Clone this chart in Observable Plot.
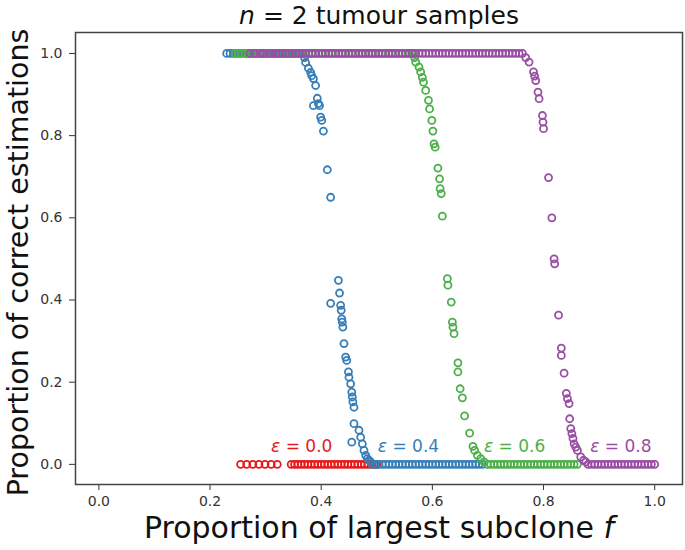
<!DOCTYPE html>
<html>
<head>
<meta charset="utf-8">
<script src="https://cdn.jsdelivr.net/npm/d3@7"></script>
<script src="https://cdn.jsdelivr.net/npm/@observablehq/plot@0.6"></script>
<style>
  html, body { margin: 0; padding: 0; background: #fff; }
  #chart { width: 685px; height: 550px; }
</style>
</head>
<body>
<div id="chart"></div>
<script>
// ---------- data ----------
const epsLabels = ["ε = 0.0", "ε = 0.4", "ε = 0.6", "ε = 0.8"];
const epsColors = ["#e41a1c", "#377eb8", "#4daf4a", "#984ea3"];

// eps = 0.0 (all at 0)
const redFloor = [0.255, 0.266, 0.277, 0.288, 0.299, 0.310, 0.321, 0.346, 0.352, 0.358, 0.364, 0.370, 0.376, 0.382, 0.388, 0.394, 0.400, 0.406, 0.412, 0.418, 0.424, 0.430, 0.436, 0.442, 0.448, 0.454, 0.460, 0.466, 0.472, 0.478, 0.484, 0.490, 0.496, 0.500];

// eps = 0.4
const blueTop = [0.230, 0.236, 0.242, 0.248, 0.254, 0.260, 0.266, 0.272, 0.278, 0.284, 0.290, 0.296, 0.302, 0.308, 0.314, 0.320, 0.326, 0.332, 0.338, 0.344, 0.350, 0.356, 0.362, 0.366];
const blueDrop = [[0.370,0.990],[0.372,0.978],[0.377,0.964],[0.381,0.954],[0.383,0.946],[0.386,0.939],[0.390,0.922],[0.393,0.891],[0.395,0.878],[0.386,0.873],[0.397,0.873],[0.399,0.845],[0.401,0.837],[0.404,0.811],[0.411,0.717],[0.417,0.650],[0.431,0.448],[0.433,0.417],[0.417,0.392],[0.435,0.387],[0.436,0.375],[0.437,0.354],[0.438,0.346],[0.439,0.334],[0.441,0.294],[0.444,0.261],[0.446,0.253],[0.449,0.225],[0.450,0.212],[0.453,0.196],[0.455,0.176],[0.456,0.164],[0.457,0.152],[0.459,0.139],[0.459,0.099],[0.455,0.054],[0.468,0.083],[0.471,0.066],[0.474,0.050],[0.477,0.034],[0.480,0.022],[0.483,0.014],[0.486,0.010],[0.489,0.006]];
const blueFloor = [0.492, 0.498, 0.504, 0.510, 0.516, 0.522, 0.528, 0.534, 0.540, 0.546, 0.552, 0.558, 0.564, 0.570, 0.576, 0.582, 0.588, 0.594, 0.600, 0.606, 0.612, 0.618, 0.624, 0.630, 0.636, 0.642, 0.648, 0.654, 0.660, 0.666, 0.672, 0.678, 0.684, 0.690];

// eps = 0.6
const greenTop = [0.245, 0.251, 0.257, 0.263, 0.269, 0.275, 0.281, 0.287, 0.293, 0.299, 0.305, 0.311, 0.317, 0.323, 0.329, 0.335, 0.341, 0.347, 0.353, 0.359, 0.365, 0.371, 0.377, 0.383, 0.389, 0.395, 0.401, 0.407, 0.413, 0.419, 0.425, 0.431, 0.437, 0.443, 0.449, 0.455, 0.461, 0.467, 0.473, 0.479, 0.485, 0.491, 0.497, 0.503, 0.509, 0.515, 0.521, 0.527, 0.533, 0.539, 0.545, 0.551, 0.557, 0.563, 0.567];
const greenDrop = [[0.568,0.990],[0.570,0.979],[0.576,0.967],[0.579,0.955],[0.582,0.942],[0.584,0.930],[0.588,0.910],[0.593,0.886],[0.595,0.865],[0.599,0.837],[0.601,0.811],[0.603,0.780],[0.605,0.772],[0.610,0.721],[0.613,0.695],[0.614,0.671],[0.616,0.659],[0.618,0.604],[0.627,0.452],[0.628,0.436],[0.634,0.395],[0.636,0.346],[0.637,0.334],[0.639,0.318],[0.646,0.247],[0.646,0.225],[0.650,0.184],[0.654,0.162],[0.658,0.118],[0.667,0.076],[0.673,0.044],[0.676,0.034],[0.681,0.022],[0.687,0.014],[0.693,0.006]];
const greenFloor = [0.699, 0.705, 0.711, 0.717, 0.723, 0.729, 0.735, 0.741, 0.747, 0.753, 0.759, 0.765, 0.771, 0.777, 0.783, 0.789, 0.795, 0.801, 0.807, 0.813, 0.819, 0.825, 0.831, 0.837, 0.843, 0.849, 0.855, 0.861];

// eps = 0.8
const purpleTop = [0.272, 0.281, 0.290, 0.296, 0.305, 0.311, 0.318, 0.324, 0.330, 0.336, 0.342, 0.348, 0.354, 0.360, 0.366, 0.372, 0.378, 0.384, 0.390, 0.396, 0.402, 0.408, 0.414, 0.420, 0.426, 0.432, 0.438, 0.444, 0.450, 0.456, 0.462, 0.468, 0.474, 0.480, 0.486, 0.492, 0.498, 0.504, 0.510, 0.516, 0.522, 0.528, 0.534, 0.540, 0.546, 0.552, 0.558, 0.564, 0.570, 0.576, 0.582, 0.588, 0.594, 0.600, 0.606, 0.612, 0.618, 0.624, 0.630, 0.636, 0.642, 0.648, 0.654, 0.660, 0.666, 0.672, 0.678, 0.684, 0.690, 0.696, 0.702, 0.708, 0.714, 0.720, 0.726, 0.732, 0.738, 0.744, 0.750, 0.756, 0.762];
const purpleDrop = [[0.768,0.990],[0.774,0.979],[0.782,0.955],[0.784,0.945],[0.786,0.934],[0.790,0.906],[0.792,0.890],[0.798,0.849],[0.799,0.833],[0.800,0.817],[0.809,0.698],[0.815,0.600],[0.819,0.500],[0.820,0.488],[0.827,0.363],[0.832,0.283],[0.832,0.265],[0.837,0.222],[0.841,0.173],[0.843,0.160],[0.846,0.148],[0.847,0.111],[0.849,0.087],[0.851,0.075],[0.853,0.063],[0.855,0.050],[0.858,0.042],[0.861,0.034],[0.867,0.018],[0.872,0.010],[0.876,0.006]];
const purpleFloor = [0.880, 0.886, 0.892, 0.898, 0.904, 0.910, 0.916, 0.922, 0.928, 0.934, 0.940, 0.946, 0.952, 0.958, 0.964, 0.970, 0.976, 0.982, 0.988, 0.994, 1.000];

// annotation anchor points (data coords)
const labelF = [0.365, 0.557, 0.748, 0.939];
const labelP = [0.043, 0.043, 0.043, 0.043];

const xTicks = [0.0, 0.2, 0.4, 0.6, 0.8, 1.0];
const yTicks = [0.0, 0.2, 0.4, 0.6, 0.8, 1.0];

const titleText = "n = 2 tumour samples";
const xLabelText = "Proportion of largest subclone f";
const yLabelText = "Proportion of correct estimations";

// ---------- build table ----------
function series(eps, top, drop, floor) {
  const rows = [];
  top.forEach(f => rows.push({f, p: 1, eps}));
  drop.forEach(([f, p]) => rows.push({f, p, eps}));
  floor.forEach(f => rows.push({f, p: 0, eps}));
  return rows;
}
const data = [
  ...series(epsLabels[0], [], [], redFloor),
  ...series(epsLabels[1], blueTop, blueDrop, blueFloor),
  ...series(epsLabels[2], greenTop, greenDrop, greenFloor),
  ...series(epsLabels[3], purpleTop, purpleDrop, purpleFloor)
];
const labelRows = epsLabels.map((t, i) => ({t, f: labelF[i], p: labelP[i]}));

const fmt = d3.format(".1f");

const chart = Plot.plot({
  width: 685,
  height: 550,
  marginLeft: 75,
  marginRight: 3,
  marginTop: 32,
  marginBottom: 66,
  style: {fontFamily: "DejaVu Sans, sans-serif", fontSize: "14px", color: "#333", background: "#fff"},
  x: {domain: [-0.042, 1.05], ticks: xTicks, tickFormat: fmt, label: null, tickSize: 6, tickPadding: 6},
  y: {domain: [-0.049, 1.051], ticks: yTicks, tickFormat: fmt, label: null, tickSize: 6, tickPadding: 7},
  color: {domain: epsLabels, range: epsColors},
  marks: [
    Plot.dot(data, {x: "f", y: "p", stroke: "eps", r: 3.5, strokeWidth: 1.8, fill: "none"}),
    ...labelRows.map((row, i) =>
      Plot.text([row], {x: "f", y: "p", text: "t", fill: epsColors[i], fontSize: 17, textAnchor: "middle", lineAnchor: "middle"})
    ),
    Plot.frame({stroke: "#444", strokeWidth: 1.5}),
    Plot.text([titleText], {text: d => d, frameAnchor: "top", dy: -17, fontSize: 25, fill: "#111", textAnchor: "middle", lineAnchor: "middle"}),
    Plot.text([xLabelText], {text: d => d, frameAnchor: "bottom", dy: 44, fontSize: 30, fill: "#111", textAnchor: "middle", lineAnchor: "middle"}),
    Plot.text([yLabelText], {text: d => d, frameAnchor: "left", dx: -57, dy: 4, rotate: -90, fontSize: 28.5, fill: "#111", textAnchor: "middle", lineAnchor: "middle"})
  ]
});

// italicize math symbols
d3.select(chart).selectAll("text").each(function() {
  const t = this.textContent;
  let parts = null;
  if (t.startsWith("ε")) parts = [["ε", true], [t.slice(1), false]];
  else if (t === titleText) parts = [["n", true], [t.slice(1), false]];
  else if (t === xLabelText) parts = [[t.slice(0, -1), false], ["f", true]];
  if (parts) {
    this.textContent = "";
    for (const [s, it] of parts) {
      const ts = document.createElementNS("http://www.w3.org/2000/svg", "tspan");
      ts.textContent = s;
      if (it) ts.setAttribute("font-style", "italic");
      this.appendChild(ts);
    }
  }
});

document.getElementById("chart").appendChild(chart);
</script>
</body>
</html>
